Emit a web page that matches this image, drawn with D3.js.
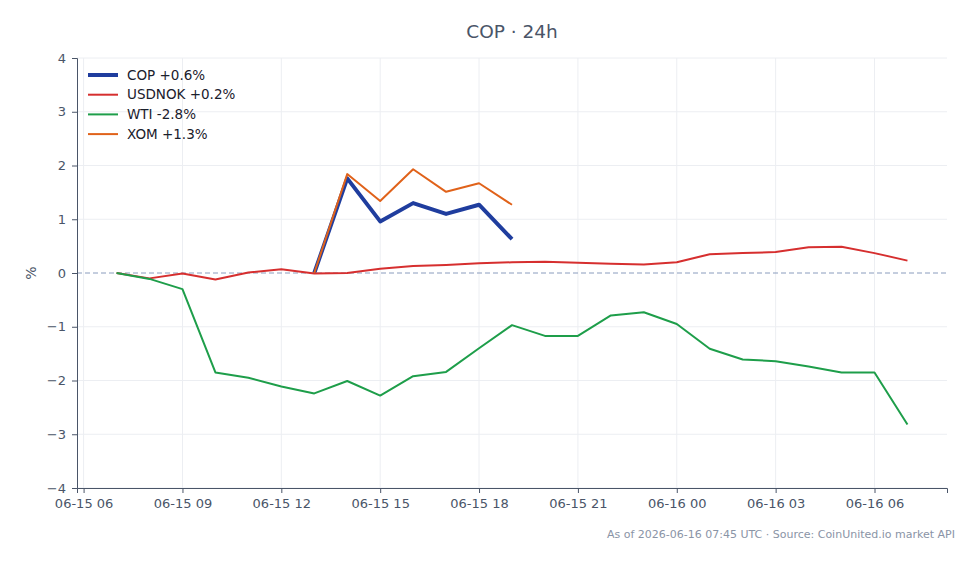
<!DOCTYPE html>
<html>
<head>
<meta charset="utf-8">
<script src="https://cdn.jsdelivr.net/npm/d3@7"></script>
<style>
  body { margin: 0; background: #fff; }
  svg, svg text { font-family: 'DejaVu Sans', Verdana, sans-serif; }
</style>
</head>
<body>
<div class="chart-cop"></div>
<script>
// hourly timestamps (UTC)
const times = [
  '2026-06-15T07:00Z', '2026-06-15T08:00Z', '2026-06-15T09:00Z', '2026-06-15T10:00Z',
  '2026-06-15T11:00Z', '2026-06-15T12:00Z', '2026-06-15T13:00Z', '2026-06-15T14:00Z',
  '2026-06-15T15:00Z', '2026-06-15T16:00Z', '2026-06-15T17:00Z', '2026-06-15T18:00Z',
  '2026-06-15T19:00Z', '2026-06-15T20:00Z', '2026-06-15T21:00Z', '2026-06-15T22:00Z',
  '2026-06-15T23:00Z', '2026-06-16T00:00Z', '2026-06-16T01:00Z', '2026-06-16T02:00Z',
  '2026-06-16T03:00Z', '2026-06-16T04:00Z', '2026-06-16T05:00Z', '2026-06-16T06:00Z',
  '2026-06-16T07:00Z',
];

// % change, null = no quote
const cop = [null, null, null, null, null, null, 0, 1.76, 0.96, 1.30, 1.10, 1.27, 0.63,
  null, null, null, null, null, null, null, null, null, null, null, null];
const usdnok = [0, -0.10, -0.01, -0.12, 0.01, 0.07, -0.01, 0, 0.08, 0.13, 0.15, 0.18, 0.20,
  0.21, 0.19, 0.17, 0.16, 0.20, 0.35, 0.37, 0.39, 0.48, 0.49, 0.37, 0.23];
const wti = [0, -0.11, -0.30, -1.85, -1.95, -2.11, -2.24, -2.01, -2.28, -1.92, -1.84, -1.40, -0.97,
  -1.17, -1.17, -0.79, -0.73, -0.95, -1.41, -1.61, -1.64, -1.74, -1.85, -1.85, -2.82];
const xom = [null, null, null, null, null, null, 0, 1.84, 1.34, 1.93, 1.51, 1.67, 1.27,
  null, null, null, null, null, null, null, null, null, null, null, null];

const seriesNames = ['COP +0.6%', 'USDNOK +0.2%', 'WTI -2.8%', 'XOM +1.3%'];
const seriesColors = ['#1f3d9e', '#d62f2f', '#1e9e4a', '#e0621a'];
const seriesWidths = [4, 2, 2, 2];
const yTicks = [-4, -3, -2, -1, 0, 1, 2, 3, 4];

const margin = { top: 58, right: 32, bottom: 76, left: 77 };
const widthBase = 979, heightBase = 564;
const width = widthBase - margin.left - margin.right,
  height = heightBase - margin.top - margin.bottom;

const parsed = times.map(t => new Date(t));
const pad = 72 * 60 * 1000;

const svg = d3.select('.chart-cop').append('svg')
  .attr('width', widthBase)
  .attr('height', heightBase);

const g = svg.append('g')
  .attr('transform', 'translate(' + margin.left + ',' + margin.top + ')');

const x = d3.scaleUtc()
  .range([0, width])
  .domain([new Date(+parsed[0] - pad), new Date(+parsed[parsed.length - 1] + pad)]);

const y = d3.scaleLinear()
  .range([height, 0])
  .domain([-4, 4]);

const xTicks = x.ticks(d3.utcHour.every(3));

// grid
g.append('g').selectAll('line')
  .data(yTicks.filter(d => d !== 0))
  .enter().append('line')
  .attr('x1', 0).attr('x2', width)
  .attr('y1', d => y(d)).attr('y2', d => y(d))
  .attr('stroke', '#eceef2');

g.append('g').selectAll('line')
  .data(xTicks)
  .enter().append('line')
  .attr('x1', d => x(d)).attr('x2', d => x(d))
  .attr('y1', 0).attr('y2', height)
  .attr('stroke', '#eceef2');

// zero line
g.append('line')
  .attr('x1', 0).attr('x2', width)
  .attr('y1', y(0)).attr('y2', y(0))
  .attr('stroke', '#8a9cbd')
  .attr('stroke-dasharray', '5,3')
  .attr('stroke-width', 1);

// axes
const axisColor = '#4a5568';
const yAxis = d3.axisLeft(y).tickValues(yTicks).tickSize(5).tickPadding(6)
  .tickFormat(d => d < 0 ? '\u2212' + Math.abs(d) : d);
const gy = g.append('g').call(yAxis);

const xAxis = d3.axisBottom(x).tickValues(xTicks).tickSize(5).tickPadding(6)
  .tickFormat(d3.utcFormat('%m-%d %H'));
const gx = g.append('g').attr('transform', 'translate(0,' + height + ')').call(xAxis);

[gx, gy].forEach(a => {
  a.attr('font-family', null).attr('font-size', 13);
  a.select('.domain').attr('stroke', axisColor);
  a.selectAll('.tick line').attr('stroke', axisColor);
  a.selectAll('.tick text').attr('fill', '#4a5568');
});

// lines, in legend order
const allSeries = [cop, usdnok, wti, xom];
const line = d3.line()
  .defined(d => d.v !== null)
  .x(d => x(d.t))
  .y(d => y(d.v));

allSeries.forEach((s, i) => {
  const pts = s.map((v, j) => ({ t: parsed[j], v: v }));
  g.append('path')
    .datum(pts)
    .attr('fill', 'none')
    .attr('stroke', seriesColors[i])
    .attr('stroke-width', seriesWidths[i])
    .attr('stroke-linejoin', 'round')
    .attr('d', line);
});

// legend
const legend = g.append('g').attr('transform', 'translate(11,17)');
seriesNames.forEach((name, i) => {
  const row = legend.append('g').attr('transform', 'translate(0,' + (i * 19.7) + ')');
  row.append('line')
    .attr('x1', 0).attr('x2', 30)
    .attr('stroke', seriesColors[i])
    .attr('stroke-width', seriesWidths[i]);
  row.append('text')
    .attr('x', 39).attr('y', 0).attr('dy', '0.35em')
    .attr('fill', '#1a202c')
    .style('font-size', '13.5px')
    .text(name);
});

// title, labels
svg.append('text')
  .attr('x', margin.left + width / 2).attr('y', 38)
  .attr('text-anchor', 'middle')
  .attr('fill', '#4a5568')
  .style('font-size', '18.5px')
  .text('COP \u00b7 24h');

svg.append('text')
  .attr('transform', 'translate(36,' + (margin.top + height / 2) + ') rotate(-90)')
  .attr('text-anchor', 'middle')
  .attr('fill', '#4a5568')
  .style('font-size', '14px')
  .text('%');

svg.append('text')
  .attr('x', 955).attr('y', 538)
  .attr('text-anchor', 'end')
  .attr('fill', '#8a94a6')
  .style('font-size', '11px')
  .text('As of 2026-06-16 07:45 UTC \u00b7 Source: CoinUnited.io market API');
</script>
</body>
</html>
